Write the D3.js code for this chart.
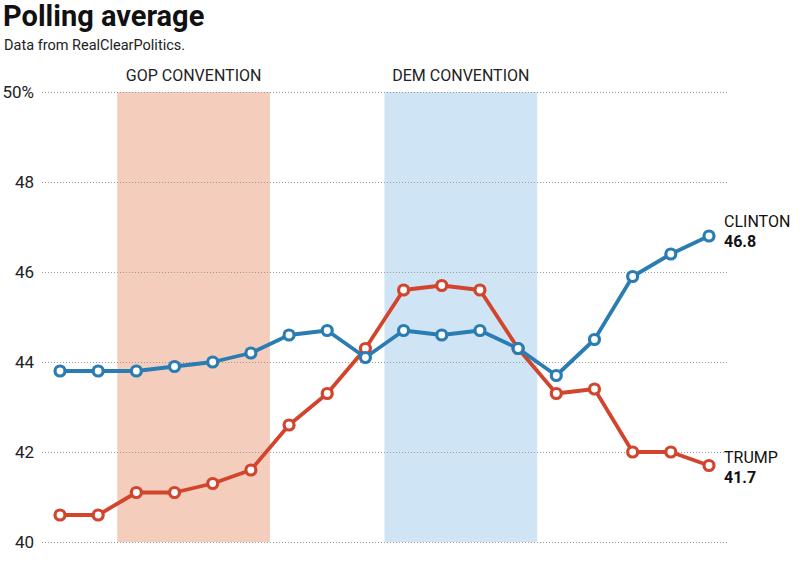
<!DOCTYPE html>
<html>
<head>
<meta charset="utf-8">
<script src="https://cdn.jsdelivr.net/npm/d3@7/dist/d3.min.js"></script>
<style>
  body { margin: 0; background: #fff; }
  svg text { font-family: 'Liberation Sans Narrow', 'Roboto', sans-serif; }
</style>
</head>
<body>
<div id="plot"></div>
<script>
'use strict';

const weeks = d3.range(18)
const clinton = [43.8, 43.8, 43.8, 43.9, 44.0, 44.2, 44.6, 44.7, 44.1, 44.7, 44.6, 44.7, 44.3, 43.7, 44.5, 45.9, 46.4, 46.8]
const trump = [40.6, 40.6, 41.1, 41.1, 41.3, 41.6, 42.6, 43.3, 44.3, 45.6, 45.7, 45.6, 44.3, 43.3, 43.4, 42.0, 42.0, 41.7]
const yTicks = [40, 42, 44, 46, 48, 50]
const bands = [
  {name: 'GOP CONVENTION', from: 1.5, to: 5.5, color: '#f4cdbd'},
  {name: 'DEM CONVENTION', from: 8.5, to: 12.5, color: '#cfe4f5'}
]
const series = [
  {name: 'TRUMP', values: trump, color: '#d2442c'},
  {name: 'CLINTON', values: clinton, color: '#2a7db3'}
]

let width = 800, height = 562;
let svg = d3.select('#plot').append('svg')
  .attr('width', width)
  .attr('height', height)

let x = d3.scaleLinear()
  .domain([0, 17])
  .range([60, 709]);
let y = d3.scaleLinear()
  .domain([40, 50])
  .range([542, 92]);

svg.append('text')
  .attr('x', 3).attr('y', 26)
  .attr('font-size', '29px')
  .attr('font-weight', 'bold')
  .style('font-family', "'Roboto', 'Liberation Sans', sans-serif")
  .attr('fill', '#111')
  .text('Polling average')
svg.append('text')
  .attr('x', 4).attr('y', 50)
  .attr('font-size', '14.5px')
  .style('font-family', "'Roboto', 'Liberation Sans', sans-serif")
  .attr('fill', '#222')
  .text('Data from RealClearPolitics.')

// convention bands
svg.append('g')
  .selectAll('rect')
  .data(bands)
  .enter()
  .append('rect')
  .attr('x', d => x(d.from))
  .attr('width', d => x(d.to) - x(d.from))
  .attr('y', y(50))
  .attr('height', y(40) - y(50))
  .attr('fill', d => d.color)
svg.append('g')
  .selectAll('text')
  .data(bands)
  .enter()
  .append('text')
  .attr('x', d => (x(d.from) + x(d.to)) / 2)
  .attr('y', 81)
  .attr('text-anchor', 'middle')
  .attr('font-size', '16px')
  .attr('fill', '#222')
  .text(d => d.name)

// grid + y axis
let y_axis = d3.axisLeft(y)
  .tickValues(yTicks)
  .tickSize(-(727 - 42))
  .tickPadding(8)
  .tickFormat(d => d == 50 ? '50%' : d)
let g = svg.append('g')
  .attr('transform', 'translate(42, 0)')
  .call(y_axis)
g.select('.domain').remove()
g.selectAll('.tick line')
  .attr('stroke', '#999')
  .attr('stroke-width', 1)
  .attr('stroke-dasharray', '1,2')
g.selectAll('.tick text')
  .attr('font-size', '17px')
  .attr('fill', '#222')
  .style('font-family', "'Liberation Sans Narrow', 'Roboto', sans-serif")

let line = d3.line()
  .x((d, i) => x(weeks[i]))
  .y(d => y(d))

series.forEach(function(s) {
  svg.append('path')
    .attr('d', line(s.values))
    .attr('fill', 'none')
    .attr('stroke', s.color)
    .attr('stroke-width', 3.8)
    .attr('stroke-linejoin', 'round')
  svg.append('g')
    .selectAll('circle')
    .data(s.values)
    .enter()
    .append('circle')
    .attr('cx', (d, i) => x(weeks[i]))
    .attr('cy', d => y(d))
    .attr('r', 5)
    .attr('fill', '#fff')
    .attr('stroke', s.color)
    .attr('stroke-width', 3.2)
  let last = s.values[s.values.length - 1]
  let lx = x(weeks[weeks.length - 1]) + 15
  let ly = s.name == 'CLINTON' ? y(last) - 9 : y(last) - 3
  svg.append('text')
    .attr('x', lx).attr('y', ly)
    .attr('font-size', '16px')
    .attr('fill', '#111')
    .text(s.name)
  svg.append('text')
    .attr('x', lx).attr('y', ly + 20)
    .attr('font-size', '16px')
    .attr('font-weight', 'bold')
    .style('font-family', "'Roboto', 'Liberation Sans', sans-serif")
    .attr('fill', '#111')
    .text(last.toFixed(1))
})
</script>
</body>
</html>
